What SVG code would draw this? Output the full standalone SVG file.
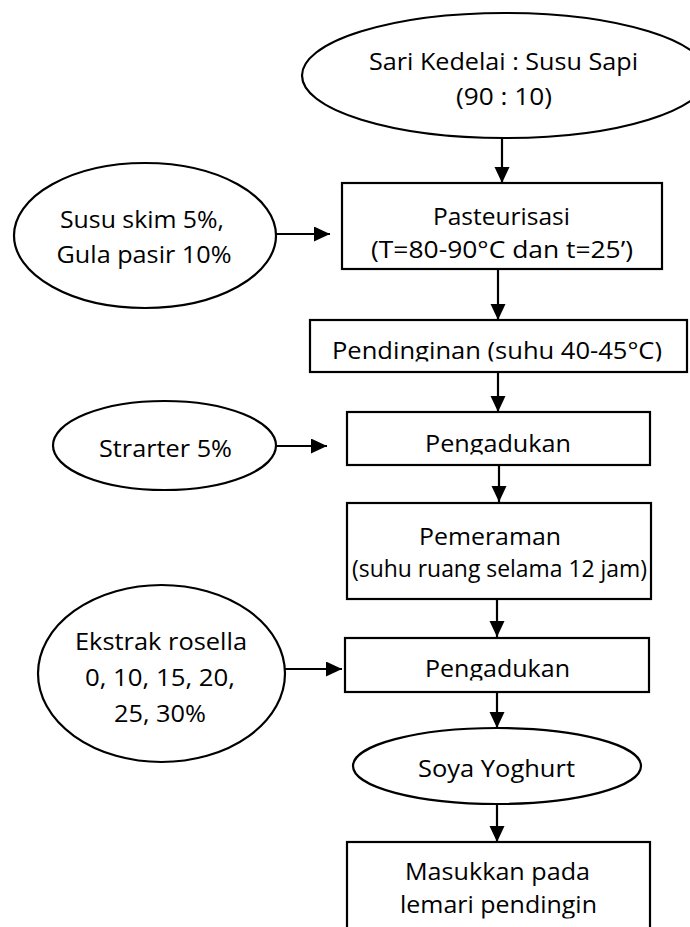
<svg xmlns="http://www.w3.org/2000/svg" width="690" height="927" viewBox="0 0 690 927">
<defs>
<style>
.shape{fill:#fff;stroke:#000;stroke-width:2.2}
.t{font-family:"Open Sans","Noto Sans","Liberation Sans",sans-serif;font-size:23.5px;fill:#000}
.c{stroke:#000;stroke-width:2.2;fill:none;marker-end:url(#ah)}
</style>
<marker id="ah" markerUnits="userSpaceOnUse" markerWidth="17" markerHeight="16" refX="16" refY="7.5" orient="auto">
<path d="M0,0 L16,7.5 L0,15 z" fill="#000"/>
</marker>
<clipPath id="cp1"><rect x="300" y="300" width="400" height="61.5"/></clipPath>
<clipPath id="cp2"><rect x="300" y="400" width="400" height="54.5"/></clipPath>
<clipPath id="cp3"><rect x="300" y="620" width="400" height="60.5"/></clipPath>
<clipPath id="cp4"><rect x="300" y="840" width="400" height="78.5"/></clipPath>
</defs>
<rect x="0" y="0" width="690" height="927" fill="#fff"/>
<g id="connectors">
<line class="c" x1="502" y1="138" x2="502" y2="183"/>
<line class="c" x1="498" y1="269" x2="498" y2="320"/>
<line class="c" x1="498" y1="372" x2="498" y2="412"/>
<line class="c" x1="499" y1="465" x2="499" y2="502"/>
<line class="c" x1="497" y1="599" x2="497" y2="637"/>
<line class="c" x1="497" y1="692" x2="497" y2="728"/>
<line class="c" x1="497" y1="804" x2="497" y2="842"/>
<line class="c" x1="276" y1="234" x2="330" y2="234"/>
<line class="c" x1="276" y1="446" x2="327" y2="446"/>
<line class="c" x1="285" y1="669" x2="342" y2="669"/>
</g>
<g id="n-sari">
<ellipse class="shape" cx="505" cy="75.5" rx="203" ry="62.5"/>
<text class="t" x="369" y="70" textLength="269" lengthAdjust="spacingAndGlyphs">Sari Kedelai : Susu Sapi</text>
<text class="t" x="456" y="105" textLength="96" lengthAdjust="spacingAndGlyphs">(90 : 10)</text>
</g>
<g id="n-susu">
<ellipse class="shape" cx="145" cy="235.5" rx="131" ry="72.5"/>
<text class="t" x="60" y="227.5" textLength="164" lengthAdjust="spacingAndGlyphs">Susu skim 5%,</text>
<text class="t" x="56.5" y="262.5" textLength="175" lengthAdjust="spacingAndGlyphs">Gula pasir 10%</text>
</g>
<g id="n-pasteurisasi">
<rect class="shape" x="342" y="183" width="320" height="86"/>
<text class="t" x="433" y="225" textLength="137" lengthAdjust="spacingAndGlyphs">Pasteurisasi</text>
<text class="t" x="371" y="257.5" textLength="262" lengthAdjust="spacingAndGlyphs">(T=80-90°C dan t=25’)</text>
</g>
<g id="n-pendinginan">
<rect class="shape" x="310" y="320" width="377" height="52"/>
<text class="t" x="332" y="358.5" textLength="330" lengthAdjust="spacingAndGlyphs" clip-path="url(#cp1)">Pendinginan (suhu 40-45°C)</text>
</g>
<g id="n-starter">
<ellipse class="shape" cx="164.5" cy="445.5" rx="111.5" ry="44.5"/>
<text class="t" x="99" y="457" textLength="133" lengthAdjust="spacingAndGlyphs">Strarter 5%</text>
</g>
<g id="n-pengadukan1">
<rect class="shape" x="347" y="412" width="303" height="53"/>
<text class="t" x="425" y="452" textLength="146" lengthAdjust="spacingAndGlyphs" clip-path="url(#cp2)">Pengadukan</text>
</g>
<g id="n-pemeraman">
<rect class="shape" x="347" y="503" width="304" height="96"/>
<text class="t" x="419" y="545" textLength="142" lengthAdjust="spacingAndGlyphs">Pemeraman</text>
<text class="t" x="352" y="577" textLength="295" lengthAdjust="spacingAndGlyphs">(suhu ruang selama 12 jam)</text>
</g>
<g id="n-ekstrak">
<ellipse class="shape" cx="161.5" cy="673.5" rx="123.5" ry="88.5"/>
<text class="t" x="75" y="650" textLength="172" lengthAdjust="spacingAndGlyphs">Ekstrak rosella</text>
<text class="t" x="85" y="686" textLength="150" lengthAdjust="spacingAndGlyphs">0, 10, 15, 20,</text>
<text class="t" x="114" y="722" textLength="92" lengthAdjust="spacingAndGlyphs">25, 30%</text>
</g>
<g id="n-pengadukan2">
<rect class="shape" x="345" y="638" width="304" height="54"/>
<text class="t" x="425" y="677" textLength="145" lengthAdjust="spacingAndGlyphs" clip-path="url(#cp3)">Pengadukan</text>
</g>
<g id="n-soya">
<ellipse class="shape" cx="497" cy="766" rx="144" ry="38"/>
<text class="t" x="418" y="777" textLength="157" lengthAdjust="spacingAndGlyphs">Soya Yoghurt</text>
</g>
<g id="n-masukkan">
<rect class="shape" x="347" y="842" width="303" height="100"/>
<text class="t" x="405" y="880" textLength="185" lengthAdjust="spacingAndGlyphs">Masukkan pada</text>
<text class="t" x="400" y="913" textLength="197" lengthAdjust="spacingAndGlyphs" clip-path="url(#cp4)">lemari pendingin</text>
</g>
</svg>
